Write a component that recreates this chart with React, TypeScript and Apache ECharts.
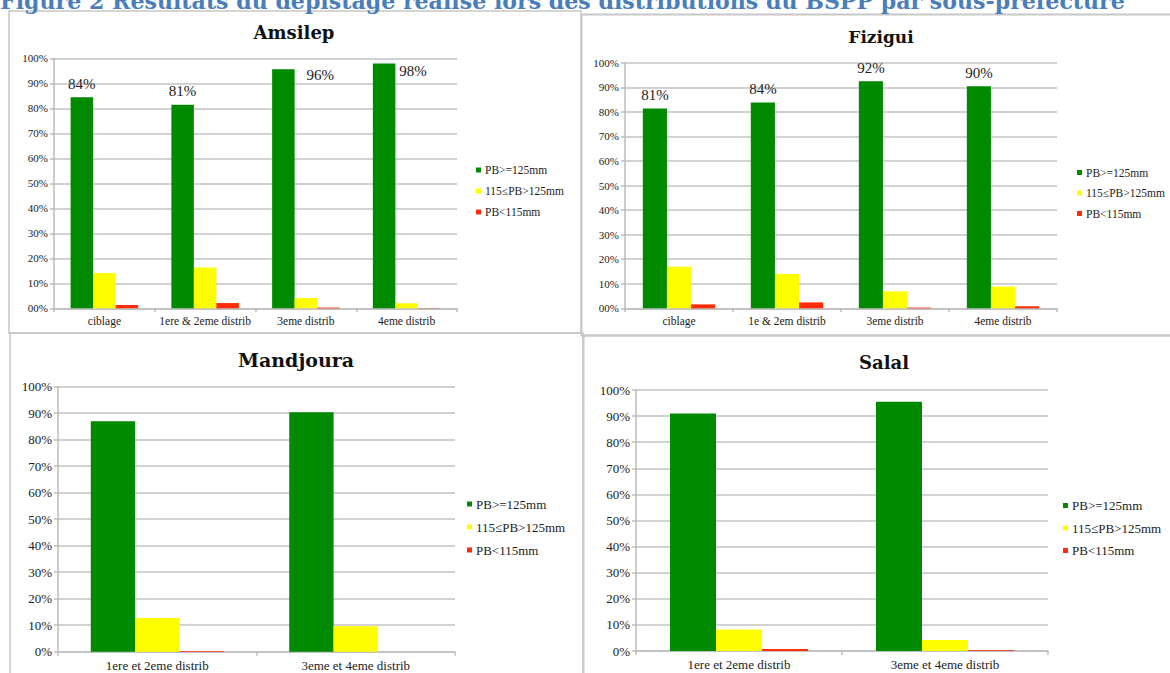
import React, { useEffect, useRef } from 'react';
import * as echarts from 'echarts';

const seriesNames = ['PB>=125mm', '115≤PB>125mm', 'PB<115mm'];
const seriesColors = ['#008a00', '#ffff00', '#ff2d0a'];

const headerText = 'Figure 2 Résultats du dépistage réalisé lors des distributions du BSPP par sous-préfecture';

const amsilepCategories = ['ciblage', '1ere & 2eme distrib', '3eme distrib', '4eme distrib'];
const amsilepGreen = [84.4, 81.4, 95.6, 97.9];
const amsilepYellow = [14.1, 16.3, 4.1, 2.0];
const amsilepRed = [1.3, 2.1, 0.3, 0.1];
const amsilepLabels = ['84%', '81%', '96%', '98%'];

const fiziguiCategories = ['ciblage', '1e & 2em distrib', '3eme distrib', '4eme distrib'];
const fiziguiGreen = [81.4, 83.8, 92.4, 90.4];
const fiziguiYellow = [16.9, 14.0, 6.9, 8.8];
const fiziguiRed = [1.6, 2.4, 0.3, 0.8];
const fiziguiLabels = ['81%', '84%', '92%', '90%'];

const mandjouraCategories = ['1ere et 2eme distrib', '3eme et 4eme distrib'];
const mandjouraGreen = [87.0, 90.4];
const mandjouraYellow = [12.7, 9.6];
const mandjouraRed = [0.3, 0];

const salalCategories = ['1ere et 2eme distrib', '3eme et 4eme distrib'];
const salalGreen = [91.0, 95.5];
const salalYellow = [8.2, 4.2];
const salalRed = [0.8, 0.3];

const panels = [
  {
    title: 'Amsilep', titleX: 294, titleY: 32, titleSize: 18,
    categories: amsilepCategories, green: amsilepGreen, yellow: amsilepYellow, red: amsilepRed,
    labels: amsilepLabels, labelOffsets: [[0, 0], [0, 0], [37, 19.5], [29, 20.5]],
    left: 54, top: 58.3, width: 403, height: 250,
    zero: '00%', yFont: 11, xFont: 11.5,
    legendLeft: 476, legendTop: 164, legendFont: 11.5, legendLH: 12, legendGap: 9,
  },
  {
    title: 'Fizigui', titleX: 881, titleY: 37, titleSize: 17,
    categories: fiziguiCategories, green: fiziguiGreen, yellow: fiziguiYellow, red: fiziguiRed,
    labels: fiziguiLabels, labelOffsets: [[0, 0], [0, 0], [0, 0], [0, 0]],
    left: 625, top: 62.7, width: 432, height: 245.6,
    zero: '00%', yFont: 11, xFont: 11.5,
    legendLeft: 1077, legendTop: 166.5, legendFont: 11.5, legendLH: 12, legendGap: 8.5,
  },
  {
    title: 'Mandjoura', titleX: 296, titleY: 360, titleSize: 19,
    categories: mandjouraCategories, green: mandjouraGreen, yellow: mandjouraYellow, red: mandjouraRed,
    labels: null, labelOffsets: null,
    left: 58, top: 386.7, width: 397, height: 265,
    zero: '0%', yFont: 13, xFont: 13,
    legendLeft: 467, legendTop: 497.5, legendFont: 13, legendLH: 13, legendGap: 10,
  },
  {
    title: 'Salal', titleX: 884, titleY: 362, titleSize: 18,
    categories: salalCategories, green: salalGreen, yellow: salalYellow, red: salalRed,
    labels: null, labelOffsets: null,
    left: 636, top: 390, width: 412, height: 261,
    zero: '0%', yFont: 13, xFont: 13,
    legendLeft: 1063, legendTop: 499, legendFont: 13, legendLH: 13, legendGap: 9.5,
  },
];

const serif = 'Liberation Serif';
const axisGray = '#bdbdbd';
const gridGray = '#d2d2d2';
const textColor = '#222';

function buildOption() {
  const series: any[] = [];
  panels.forEach((p, i) => {
    const sets = [p.green, p.yellow, p.red];
    sets.forEach((vals, k) => {
      const s: any = {
        type: 'bar',
        name: seriesNames[k],
        xAxisIndex: i,
        yAxisIndex: i,
        barGap: '0%',
        barCategoryGap: '33%',
        itemStyle: { color: seriesColors[k] },
        data: vals.map((v, j) =>
          k === 0 && p.labelOffsets ? { value: v, label: { offset: p.labelOffsets[j] } } : v
        ),
      };
      if (k === 0 && p.labels) {
        const labs = p.labels;
        s.label = {
          show: true,
          position: 'top',
          distance: 6,
          fontFamily: serif,
          fontSize: 15,
          color: textColor,
          formatter: (params: any) => labs[params.dataIndex],
        };
      }
      series.push(s);
    });
  });

  return {
    animation: false,
    backgroundColor: '#ffffff',
    title: panels.map((p) => ({
      text: p.title,
      left: p.titleX,
      top: p.titleY,
      padding: 0,
      textAlign: 'center',
      textVerticalAlign: 'middle',
      textStyle: { fontFamily: 'DejaVu Serif', fontWeight: 'bold', fontSize: p.titleSize, color: '#111' },
    })),
    legend: panels.map((p) => ({
      orient: 'vertical',
      left: p.legendLeft,
      top: p.legendTop,
      padding: 0,
      icon: 'rect',
      itemWidth: 5,
      itemHeight: 5,
      itemGap: p.legendGap,
      selectedMode: false,
      data: seriesNames,
      textStyle: { fontFamily: serif, fontSize: p.legendFont, lineHeight: p.legendLH, color: textColor, padding: [0, 0, 0, -1] },
    })),
    grid: panels.map((p) => ({ left: p.left, top: p.top, width: p.width, height: p.height, containLabel: false })),
    xAxis: panels.map((p, i) => ({
      type: 'category',
      gridIndex: i,
      data: p.categories,
      axisLine: { show: true, lineStyle: { color: axisGray, width: 1.5 } },
      axisTick: { show: true, length: 4, lineStyle: { color: axisGray, width: 1.5 } },
      axisLabel: { interval: 0, fontFamily: serif, fontSize: p.xFont, color: textColor, margin: 7 },
    })),
    yAxis: panels.map((p, i) => ({
      type: 'value',
      gridIndex: i,
      min: 0,
      max: 100,
      interval: 10,
      axisLine: { show: true, lineStyle: { color: axisGray, width: 1.5 } },
      axisTick: { show: true, length: 4, lineStyle: { color: axisGray, width: 1.5 } },
      splitLine: { show: true, lineStyle: { color: gridGray, width: 2 } },
      axisLabel: {
        fontFamily: serif,
        fontSize: p.yFont,
        color: textColor,
        margin: 6,
        formatter: (v: number) => (v === 0 ? p.zero : v + '%'),
      },
    })),
    graphic: [
      { type: 'rect', z: -10, shape: { x: 9, y: 11, width: 572, height: 322 }, style: { fill: 'none', stroke: '#c8c8c8', lineWidth: 1.5 } },
      { type: 'rect', z: -10, shape: { x: 581.5, y: 14.5, width: 620, height: 321 }, style: { fill: 'none', stroke: '#c8c8c8', lineWidth: 2 } },
      { type: 'rect', z: -10, shape: { x: 10, y: 333, width: 573, height: 400 }, style: { fill: 'none', stroke: '#c8c8c8', lineWidth: 1.5 } },
      { type: 'rect', z: -10, shape: { x: 583.5, y: 335.5, width: 620, height: 400 }, style: { fill: 'none', stroke: '#c8c8c8', lineWidth: 2 } },
      {
        type: 'text',
        x: 0,
        y: 1,
        style: {
          text: headerText,
          fontFamily: 'DejaVu Serif',
          fontWeight: 'bold',
          fontSize: 22.1,
          fill: '#4a7ebb',
          align: 'left',
          verticalAlign: 'middle',
        },
      },
    ],
    series,
  };
}

export default function App() {
  const ref = useRef<HTMLDivElement>(null);
  useEffect(() => {
    if (!ref.current) return;
    const chart = echarts.init(ref.current, undefined, { renderer: 'svg' });
    chart.setOption(buildOption() as any);
    return () => chart.dispose();
  }, []);
  return (
    <div
      ref={ref}
      style={{ position: 'absolute', left: 0, top: 0, width: 1170, height: 673, background: '#fff' }}
    />
  );
}
